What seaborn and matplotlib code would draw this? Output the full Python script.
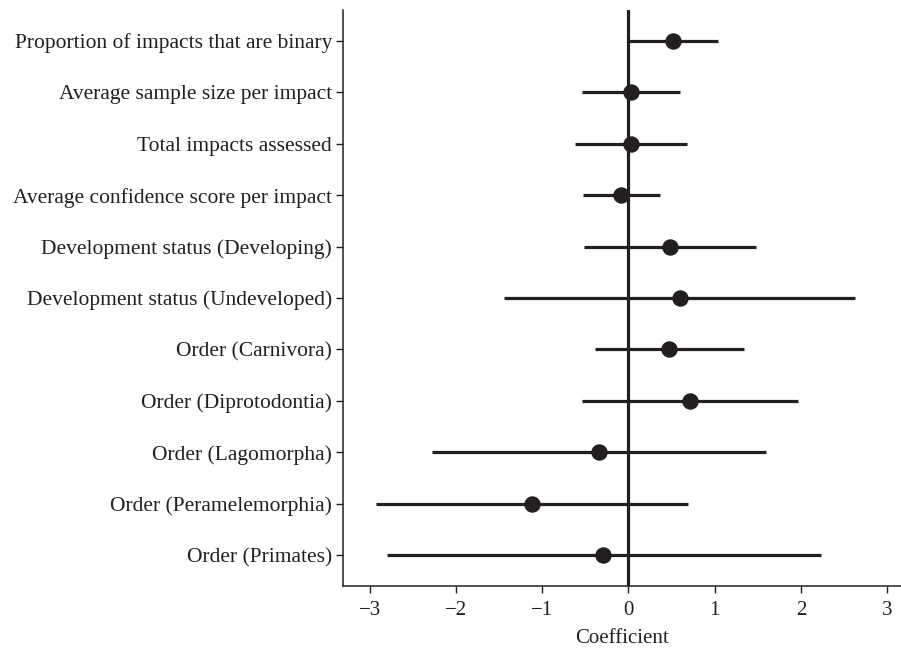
import matplotlib
matplotlib.use("Agg")
import matplotlib.pyplot as plt
import seaborn as sns
import pandas as pd

labels = [
    "Proportion of impacts that are binary",
    "Average sample size per impact",
    "Total impacts assessed",
    "Average confidence score per impact",
    "Development status (Developing)",
    "Development status (Undeveloped)",
    "Order (Carnivora)",
    "Order (Diprotodontia)",
    "Order (Lagomorpha)",
    "Order (Peramelemorphia)",
    "Order (Primates)",
]
coef = [0.52, 0.03, 0.03, -0.09, 0.48, 0.60, 0.47, 0.71, -0.34, -1.12, -0.29]
lower = [0.00, -0.54, -0.62, -0.53, -0.52, -1.44, -0.39, -0.54, -2.28, -2.93, -2.80]
upper = [1.04, 0.60, 0.68, 0.36, 1.48, 2.63, 1.34, 1.97, 1.59, 0.69, 2.23]

df = pd.DataFrame({"term": labels, "coef": coef, "lo": lower, "hi": upper})

sns.set_style("ticks")
plt.rcParams["font.family"] = ["Liberation Serif", "DejaVu Serif"]
ink = "#231f20"

fig = plt.figure(figsize=(9.01, 6.52), dpi=100)
ax = fig.add_axes([343 / 901, (652 - 586) / 652, (901 - 343) / 901, (586 - 10) / 652])

ax.axvline(0, color=ink, lw=2.3, zorder=1)
ax.hlines(df["term"], df["lo"], df["hi"], color=ink, lw=2.3, zorder=2)
sns.scatterplot(data=df, x="coef", y="term", ax=ax, color=ink, s=140,
                edgecolor=ink, linewidth=0, zorder=3)

ax.set_xlim(-3.31, 3.16)
ax.set_ylim(len(labels) - 0.4, -0.6)
ax.set_xticks([-3, -2, -1, 0, 1, 2, 3])
ax.set_xticklabels(["\u22123", "\u22122", "\u22121", "0", "1", "2", "3"])
ax.set_xlabel("Coefficient", fontsize=15, color=ink, labelpad=6)
ax.set_ylabel("")
ax.tick_params(axis="both", colors=ink, length=5, width=1.0)
ax.tick_params(axis="x", labelsize=15, pad=6)
ax.tick_params(axis="y", labelsize=15.5, pad=3)
sns.despine(ax=ax)
for s in ["left", "bottom"]:
    ax.spines[s].set_color(ink)
    ax.spines[s].set_linewidth(1.1)

fig.savefig("out.png", dpi=100)
